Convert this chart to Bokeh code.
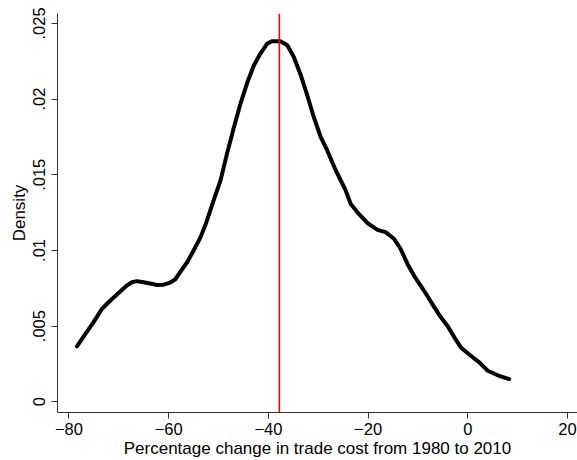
from bokeh.plotting import figure
from bokeh.models import Range1d, Span, FixedTicker
from bokeh.embed import file_html
from bokeh.resources import INLINE

# Kernel density estimate
pct_change = [-78.4, -76.7, -75.1, -73.4, -71.7, -70.1, -68.4, -67.4, -66.4, -65.3,
              -64.0, -62.3, -61.0, -59.7, -58.7, -57.7, -56.3, -55.0, -53.6, -52.4,
              -51.0, -49.6, -48.3, -46.9, -45.6, -44.2, -42.9, -41.6, -40.2, -39.2,
              -37.6, -36.2, -34.9, -33.5, -32.2, -30.9, -29.5, -28.2, -26.5, -24.5,
              -23.5, -22.1, -20.1, -18.1, -16.5, -14.8, -13.5, -12.1, -10.8, -8.8,
              -6.7, -5.4, -4.1, -2.7, -1.4, 0.6, 2.3, 4.0, 6.0, 8.3]
density = [0.00366, 0.00448, 0.00525, 0.00613, 0.00669, 0.00717, 0.00768, 0.00790, 0.00797, 0.00792,
           0.00783, 0.00772, 0.00774, 0.00788, 0.00808, 0.00856, 0.00922, 0.01000, 0.01088, 0.01190,
           0.01330, 0.01463, 0.01640, 0.01816, 0.01970, 0.02113, 0.02224, 0.02301, 0.02368, 0.02383,
           0.02383, 0.02356, 0.02279, 0.02158, 0.02025, 0.01882, 0.01749, 0.01661, 0.01530, 0.01397,
           0.01308, 0.01250, 0.01180, 0.01136, 0.01121, 0.01077, 0.01011, 0.00911, 0.00834, 0.00735,
           0.00624, 0.00558, 0.00503, 0.00426, 0.00359, 0.00304, 0.00260, 0.00205, 0.00175, 0.00150]

mean_change = -37.8

x_ticks = [-80, -60, -40, -20, 0, 20]
x_tick_labels = ["\u221280", "\u221260", "\u221240", "\u221220", "0", "20"]
y_ticks = [0, 0.005, 0.01, 0.015, 0.02, 0.025]
y_tick_labels = ["0", ".005", ".01", ".015", ".02", ".025"]

FONT = "Liberation Sans"

p = figure(width=577, height=460, output_backend="svg", toolbar_location=None,
           x_range=Range1d(-82.3, 22.0), y_range=Range1d(-0.00071, 0.02566),
           min_border_left=57, min_border_right=0, min_border_top=13, min_border_bottom=48)
p.outline_line_color = None
p.grid.grid_line_color = None
p.background_fill_color = "white"
p.border_fill_color = "white"

p.line(pct_change, density, line_color="black", line_width=4,
       line_cap="round", line_join="round")

p.add_layout(Span(location=mean_change, dimension="height", line_color="red", line_width=1.6))

for ax in (p.xaxis[0], p.yaxis[0]):
    ax.axis_line_color = "#333333"
    ax.axis_line_width = 1
    ax.major_tick_line_color = "#333333"
    ax.major_tick_out = 6
    ax.major_tick_in = 0
    ax.minor_tick_line_color = None
    ax.major_label_text_font = FONT
    ax.major_label_text_font_size = "16.5px"
    ax.major_label_text_color = "black"
    ax.axis_label_text_font = FONT
    ax.axis_label_text_font_size = "17px"
    ax.axis_label_text_font_style = "normal"
    ax.axis_label_text_color = "black"

p.xaxis[0].ticker = FixedTicker(ticks=x_ticks)
p.xaxis[0].major_label_overrides = dict(zip(x_ticks, x_tick_labels))
p.xaxis[0].axis_label = "Percentage change in trade cost from 1980 to 2010"
p.xaxis[0].major_label_standoff = 4
p.xaxis[0].axis_label_standoff = 1

p.yaxis[0].ticker = FixedTicker(ticks=y_ticks)
p.yaxis[0].major_label_overrides = dict(zip(y_ticks, y_tick_labels))
p.yaxis[0].major_label_orientation = "vertical"
p.yaxis[0].axis_label = "Density"
p.yaxis[0].major_label_standoff = 6
p.yaxis[0].axis_label_standoff = 2

open("out.html", "w").write(file_html(p, INLINE))
